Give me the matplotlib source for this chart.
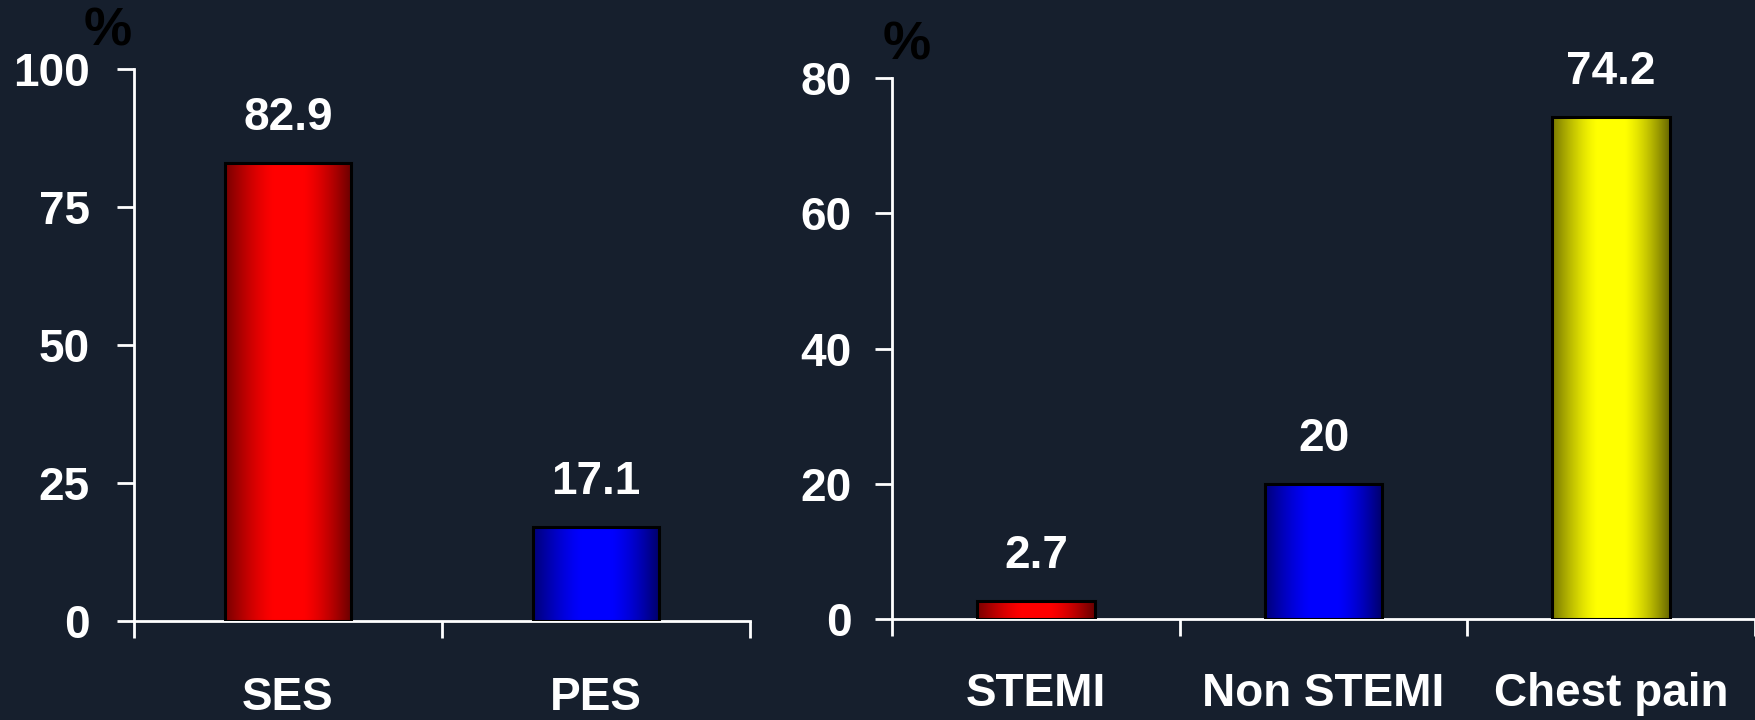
import numpy as np
import matplotlib
matplotlib.use("Agg")
import matplotlib.pyplot as plt
from matplotlib.colors import LinearSegmentedColormap

# Stent type share (%)
stent_labels = ["SES", "PES"]
stent_values = [82.9, 17.1]
stent_value_text = ["82.9", "17.1"]

# Clinical presentation share (%)
present_labels = ["STEMI", "Non STEMI", "Chest pain"]
present_values = [2.7, 20.0, 74.2]
present_value_text = ["2.7", "20", "74.2"]

left_yticks = [0, 25, 50, 75, 100]
right_yticks = [0, 20, 40, 60, 80]

BG = "#161f2d"
FONT = "Liberation Sans"
W, H = 1755, 720
DPI = 100

plt.rcParams["font.family"] = [FONT, "DejaVu Sans"]
plt.rcParams["font.weight"] = "bold"

fig = plt.figure(figsize=(W / DPI, H / DPI), dpi=DPI, facecolor=BG)


def shade_cmap(base):
    base = np.array(matplotlib.colors.to_rgb(base))
    t = np.linspace(0, 1, 256)
    k = 0.47 + 0.53 * np.clip(np.cos(np.pi * (t - 0.5)) * 1.08, 0, 1)
    k = k - 0.06 * t * (1 - k) * 2  # right edge slightly darker
    cols = np.clip(base[None, :] * k[:, None], 0, 1)
    return LinearSegmentedColormap.from_list("shade", cols)


def draw_panel(rect, labels, values, texts, colors, yticks, ylab_pad, xlab_pad):
    ax = fig.add_axes(rect)
    ax.set_facecolor(BG)
    n = len(labels)
    x = np.arange(n)
    width = 0.41
    bars = ax.bar(x, values, width=width, facecolor="none",
                  edgecolor="black", linewidth=2.2, zorder=3)
    grad = np.linspace(0, 1, 256)[None, :]
    for b, c in zip(bars, colors):
        x0, w, h = b.get_x(), b.get_width(), b.get_height()
        ax.imshow(grad, cmap=shade_cmap(c), extent=(x0, x0 + w, 0, h),
                  aspect="auto", zorder=2, interpolation="bilinear")
    for xi, v, t in zip(x, values, texts):
        ax.annotate(t, (xi, v), xytext=(0, 16.5), textcoords="offset points",
                    ha="center", va="bottom", color="white",
                    fontsize=33, fontweight="bold")
    ax.set_xlim(-0.5, n - 0.5)
    ax.set_ylim(0, yticks[-1])

    for s in ("top", "right"):
        ax.spines[s].set_visible(False)
    for s in ("left", "bottom"):
        ax.spines[s].set_color("white")
        ax.spines[s].set_linewidth(2.0)

    ax.set_yticks(yticks)
    ax.set_yticklabels([str(v) for v in yticks])
    ax.tick_params(axis="y", direction="out", length=12, width=2.0,
                   color="white", labelcolor="white", labelsize=33,
                   pad=ylab_pad)

    ax.set_xticks(np.arange(n + 1) - 0.5)
    ax.set_xticklabels([])
    ax.tick_params(axis="x", which="major", direction="out", length=12,
                   width=2.0, color="white")
    ax.set_xticks(x, minor=True)
    ax.set_xticklabels(labels, minor=True)
    ax.tick_params(axis="x", which="minor", length=0, labelcolor="white",
                   labelsize=33, pad=xlab_pad)
    for lbl in ax.get_xticklabels(minor=True) + ax.get_yticklabels():
        lbl.set_fontweight("bold")
    return ax


ax1 = draw_panel([134 / W, 1 - 621 / H, 616 / W, 552 / H],
                 stent_labels, stent_values, stent_value_text,
                 ["#ff0000", "#0000ff"], left_yticks, 20, 39.5)
ax2 = draw_panel([892 / W, 1 - 619 / H, 863 / W, 541 / H],
                 present_labels, present_values, present_value_text,
                 ["#ff0000", "#0000ff", "#ffff00"], right_yticks, 17, 38)

fig.text(108 / W, 1 - 32 / H, "%", color="black", fontsize=39,
         fontweight="bold", ha="center", va="center")
fig.text(907 / W, 1 - 45 / H, "%", color="black", fontsize=39,
         fontweight="bold", ha="center", va="center")

fig.savefig("out.png", dpi=DPI, facecolor=BG)
